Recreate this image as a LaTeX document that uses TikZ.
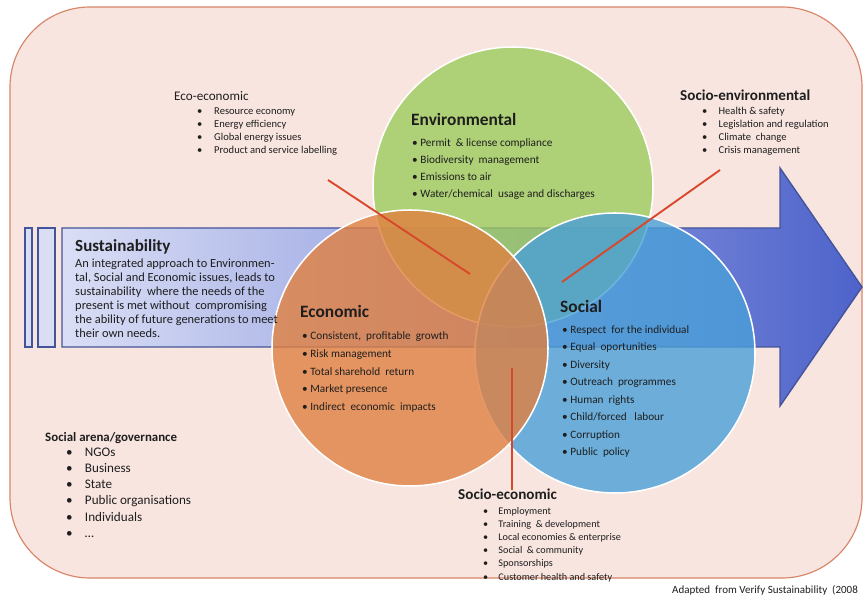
\documentclass[tikz,border=0pt]{standalone}
\usepackage{fontspec}
\setmainfont{Carlito}
\usepackage{tikz}
\usetikzlibrary{calc}
\usetikzlibrary{positioning}

\definecolor{boxpink}{HTML}{F8E5E0}
\definecolor{boxedge}{HTML}{D9866A}
\definecolor{arrowedge}{HTML}{44549A}
\definecolor{arrowlight}{HTML}{DADEF5}
\definecolor{arrowdark}{HTML}{4E63CB}
\definecolor{envgreen}{HTML}{9CCB5C}
\definecolor{ecoorange}{HTML}{E08040}
\definecolor{socblue}{HTML}{4A9FD8}
\definecolor{linkred}{HTML}{D9472B}
\definecolor{textdark}{HTML}{1E1E1E}

\tikzset{
  circ/.style={draw=white, line width=1.3pt, fill opacity=0.8},
  bighead/.style={anchor=base west, inner sep=0, text=textdark, font=\bfseries\fontsize{14.8}{15}\selectfont},
  smallhead/.style={anchor=base west, inner sep=0, text=textdark, font=\fontsize{11.2}{12}\selectfont},
  circitem/.style={anchor=base west, inner sep=0, text=textdark, font=\fontsize{9.6}{10}\selectfont},
  subitem/.style={anchor=base west, inner sep=0, text=textdark, font=\fontsize{9}{9}\selectfont},
  bodytext/.style={anchor=base west, inner sep=0, text=textdark, font=\fontsize{10.6}{11}\selectfont},
  link/.style={draw=linkred, line width=1.6pt}
}

\begin{document}
\begin{tikzpicture}[x=0.03cm, y=-0.03cm]
\useasboundingbox (0,0) rectangle (868,599);
\fill[white] (0,0) rectangle (868,599);

% frame
\draw[boxedge, fill=boxpink, line width=1pt, rounded corners=2.4cm] (10,7) rectangle (862,578);

% arrow
\draw[arrowedge, line width=1.2pt, left color=arrowlight, right color=arrowdark]
  (62,228) -- (780,228) -- (780,168) -- (862,287) -- (780,406) -- (780,347) -- (62,347) -- cycle;
\draw[arrowedge, line width=1.2pt, fill=arrowlight] (25,228) rectangle (32,347);
\draw[arrowedge, line width=1.2pt, fill=arrowlight] (38,228) rectangle (55,347);

% circles
\draw[circ, fill=envgreen] (513,187) circle (140);
\draw[circ, fill=socblue] (615,353) circle (140);
\draw[circ, fill=ecoorange] (410,348) circle (138);

% links
\coordinate (ecostart) at (328,180);
\coordinate (ecoend) at (470,274);
\coordinate (sestart) at (720,170);
\coordinate (seend) at (562,282);
\coordinate (soestart) at (512,368);
\coordinate (soeend) at (512,490);
\draw[link] (ecostart) -- (ecoend);
\draw[link] (sestart) -- (seend);
\draw[link] (soestart) -- (soeend);

% Environmental
\node[bighead] (envhead) at (411,126) {Environmental};
\foreach \t [count=\i] in {{Permit\ \ \& license\ compliance},{Biodiversity\ \ management},{Emissions\ to\ air},{Water/chemical\ \ usage and discharges}}
  \node[circitem] (env\i) at (412,130+17*\i) {\textbullet\ \t};

% Economic
\node[bighead] (econhead) at (300,318) {Economic};
\foreach \t [count=\i] in {{Consistent,\ \ profitable\ \ growth},{Risk management},{Total\ sharehold\ \ return},{Market presence},{Indirect\ \ economic\ \ impacts}}
  \node[circitem] (econ\i) at (302,322.5+17.5*\i) {\textbullet\ \t};

% Social
\node[bighead] (sochead) at (560,313) {Social};
\foreach \t [count=\i] in {{Respect\ \ for\ the\ individual},{Equal\ \ oportunities},{Diversity},{Outreach\ \ programmes},{Human\ \ rights},{Child/forced\ \ \ labour},{Corruption},{Public\ \ policy}}
  \node[circitem] (soc\i) at (562,315.5+17.5*\i) {\textbullet\ \t};

% Eco-economic
\node[smallhead] (ecohead) at (174,101) {Eco-economic};
\foreach \t [count=\i] in {{Resource economy},{Energy efficiency},{Global energy issues},{Product and service labelling}}
  \node[subitem] (eco\i) at (197,102+13*\i) {\makebox[14.5pt][l]{\textbullet}\t};

% Socio-environmental
\node[smallhead, font=\bfseries\fontsize{12.9}{13}\selectfont] (senvhead) at (680,101) {Socio-environmental};
\foreach \t [count=\i] in {{Health \& safety},{Legislation and regulation},{Climate\ \ change},{Crisis management}}
  \node[subitem] (senv\i) at (702,102+13*\i) {\makebox[14pt][l]{\textbullet}\t};

% Socio-economic
\node[smallhead, font=\bfseries\fontsize{12.9}{13}\selectfont] (secohead) at (458,499) {Socio-economic};
\foreach \t [count=\i] in {{Employment},{Training\ \ \& development},{Local economies \& enterprise},{Social\ \ \& community},{Sponsorships},{Customer health and safety}}
  \node[subitem, font=\fontsize{8.7}{9}\selectfont] (seco\i) at (483,500.8+13.2*\i) {\makebox[13pt][l]{\textbullet}\t};

% Sustainability
\node[anchor=base west, inner sep=0, text=textdark, font=\bfseries\fontsize{14.5}{15}\selectfont] (sushead) at (75,252) {Sustainability};
\foreach \t [count=\i] in {{An integrated approach to Environmen-},{tal, Social and Economic issues, leads to},{sustainability\ \ where the needs of the},{present is met without\ \ compromising},{the ability of future generations to meet},{their own needs.}}
  \node[bodytext] (sus\i) at (75,254+14*\i) {\t};

% Social arena
\node[bodytext, font=\bfseries\fontsize{11}{11}\selectfont] (arenahead) at (45,441) {Social arena/governance};
\foreach \t [count=\i] in {{NGOs},{Business},{State},{Public organisations},{Individuals},{\dots}}
  \node[bodytext, font=\fontsize{11.2}{11}\selectfont] (arena\i) at (66,440+16.2*\i) {\makebox[16pt][l]{\textbullet}\t};

\node[anchor=base west, inner sep=0, text=textdark, font=\fontsize{9.4}{10}\selectfont] (source) at (672,593) {Adapted\ \ from Verify Sustainability\ \ (2008};
\end{tikzpicture}
\end{document}
